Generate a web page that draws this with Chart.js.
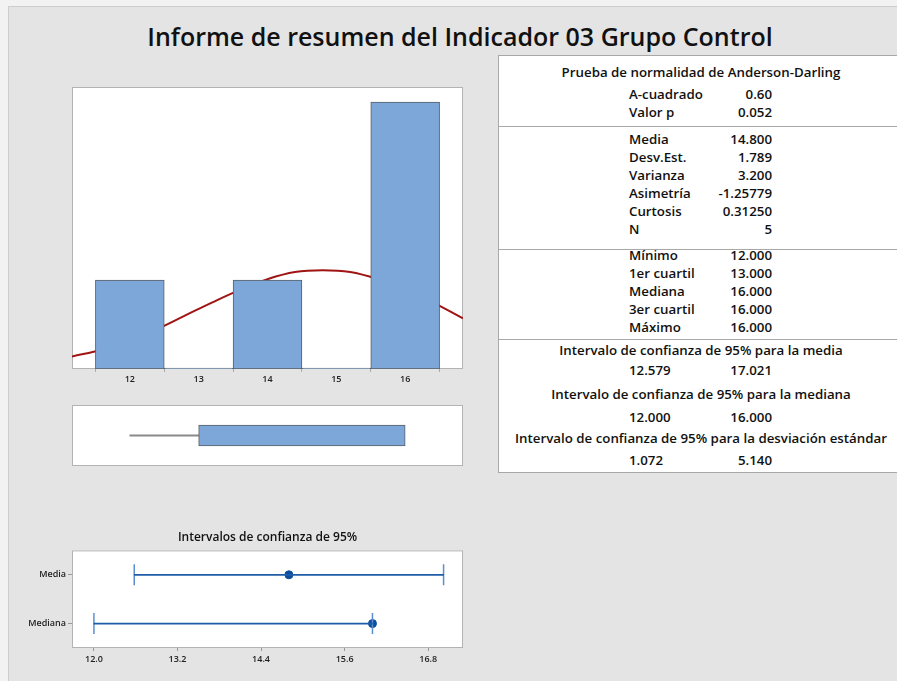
<!DOCTYPE html>
<html>
<head>
<meta charset="utf-8">
<script src="https://cdn.jsdelivr.net/npm/chart.js@4.4.1/dist/chart.umd.min.js"></script>
<style>
  body { margin: 0; width: 897px; height: 681px; overflow: hidden; background: #f2f2f2; font-family: 'Open Sans', sans-serif; position: relative; }
  #frame { position: absolute; left: 8px; top: 6px; right: 0; bottom: 0; background: #e4e4e4; border-left: 1px solid #cdcdcd; border-top: 1px solid #cdcdcd; }
  #title { position: absolute; left: 0; width: 920px; top: 19px; line-height: 34px; text-align: center; font-size: 25px; font-weight: 600; color: #111; }
  .cv { position: absolute; }
  #tbl { position: absolute; left: 498px; top: 55px; width: 420px; height: 416px; background: #fff; border: 1px solid #a8a8a8; color: #111; font-size: 13.3px; font-weight: 600; }
  #tbl div { position: absolute; line-height: 18px; white-space: nowrap; }
  .hd { left: 2px; width: 400px; text-align: center; }
  .lb { left: 130px; }
  .vl { left: 130px; width: 143px; text-align: right; }
  .sep { left: 0; width: 420px; height: 0; border-top: 1px solid #a8a8a8; }
</style>
</head>
<body>
<div id="frame"></div>
<div id="title">Informe de resumen del Indicador 03 Grupo Control</div>
<canvas id="hist" class="cv" style="left:60px;top:80px" width="415" height="315"></canvas>
<canvas id="box" class="cv" style="left:60px;top:398px" width="415" height="76"></canvas>
<canvas id="ci" class="cv" style="left:0px;top:525px" width="480" height="156"></canvas>
<div id="tbl"></div>
<script>
// histogram
var binCenters = [12, 13, 14, 15, 16];
var binCounts = [1, 0, 1, 0, 3];
var histTicks = [12, 13, 14, 15, 16];
// fitted normal curve
var curveX = [11.16, 11.6, 12.0, 12.4, 12.8, 13.2, 13.6, 14.0, 14.4, 14.8, 15.2, 15.6, 16.0, 16.4, 16.84];
var curveY = [0.14, 0.22, 0.33, 0.45, 0.60, 0.75, 0.89, 1.01, 1.09, 1.11, 1.09, 1.01, 0.89, 0.75, 0.57];
// boxplot: min, q1, median, q3, max
var boxStats = [12, 13, 16, 16, 16];
// confidence intervals
var ciRows = ['Media', 'Mediana'];
var ciCenter = [14.8, 16.0];
var ciLower = [12.579, 12.0];
var ciUpper = [17.021, 16.0];
var ciTicks = [12.0, 13.2, 14.4, 15.6, 16.8];
// summary table
var adLabels = ['A-cuadrado', 'Valor p'];
var adValues = ['0.60', '0.052'];
var momLabels = ['Media', 'Desv.Est.', 'Varianza', 'Asimetría', 'Curtosis', 'N'];
var momValues = ['14.800', '1.789', '3.200', '-1.25779', '0.31250', '5'];
var qLabels = ['Mínimo', '1er cuartil', 'Mediana', '3er cuartil', 'Máximo'];
var qValues = ['12.000', '13.000', '16.000', '16.000', '16.000'];
var ciHeaders = ['Intervalo de confianza de 95% para la media', 'Intervalo de confianza de 95% para la mediana', 'Intervalo de confianza de 95% para la desviación estándar'];
var ciLowTxt = ['12.579', '12.000', '1.072'];
var ciHighTxt = ['17.021', '16.000', '5.140'];

Chart.defaults.font.family = "'Open Sans', sans-serif";
Chart.defaults.animation = false;
Chart.defaults.plugins.legend.display = false;
Chart.defaults.plugins.tooltip.enabled = false;

var blue = '#7da7d9';
var edge = '#5a5e66';

// white plot panel with a grey frame
var panel = {
  id: 'panel',
  beforeDraw: function(chart) {
    var a = chart.chartArea, c = chart.ctx;
    c.save();
    c.fillStyle = '#fff';
    c.fillRect(a.left, a.top, a.right - a.left, a.bottom - a.top);
    c.strokeStyle = '#b3b3b3';
    c.lineWidth = 1;
    c.strokeRect(a.left + 0.5, a.top + 0.5, a.right - a.left - 1, a.bottom - a.top - 1);
    c.restore();
  }
};

var tickFont = { size: 9, weight: '600' };

new Chart(document.getElementById('hist'), {
  type: 'bar',
  data: {
    datasets: [{
      data: binCenters.map(function(x, i) { return { x: x, y: binCounts[i] }; }),
      backgroundColor: blue,
      borderColor: edge,
      borderWidth: 1,
      borderSkipped: false,
      minBarLength: 1,
      barPercentage: 1,
      categoryPercentage: 1
    }, {
      type: 'line',
      data: curveX.map(function(x, i) { return { x: x, y: curveY[i] }; }),
      borderColor: '#a01414',
      borderWidth: 2,
      pointRadius: 0,
      tension: 0.4
    }]
  },
  options: {
    responsive: false,
    layout: { padding: { left: 12, right: 12, top: 7, bottom: 0 } },
    scales: {
      x: {
        type: 'linear', min: 11.16, max: 16.84, offset: false,
        afterBuildTicks: function(s) { s.ticks = histTicks.map(function(v) { return { value: v }; }); },
        afterFit: function(s) { s.height = 26; },
        ticks: { font: tickFont, color: '#222', padding: 2 },
        grid: { drawOnChartArea: false, tickLength: 3, color: '#aaa' },
        border: { display: false }
      },
      y: { min: 0, max: 3.17, display: false }
    }
  },
  plugins: [panel]
});

new Chart(document.getElementById('box'), {
  type: 'bar',
  data: {
    datasets: [{
      data: [{ x: [boxStats[1], boxStats[3]], y: 0 }],
      backgroundColor: blue,
      borderColor: edge,
      borderWidth: 1,
      borderSkipped: false,
      barThickness: 21,
      grouped: false
    }, {
      data: [{ x: [boxStats[0], boxStats[1]], y: 0 }],
      backgroundColor: '#8a8a8a',
      borderWidth: 0,
      barThickness: 1.2,
      grouped: false
    }]
  },
  options: {
    responsive: false,
    indexAxis: 'y',
    layout: { padding: { left: 12, right: 12, top: 7, bottom: 8 } },
    scales: {
      x: { type: 'linear', min: 11.16, max: 16.84, display: false },
      y: { type: 'linear', min: -1, max: 1, display: false }
    }
  },
  plugins: [panel]
});

new Chart(document.getElementById('ci'), {
  type: 'bar',
  data: {
    labels: ciRows,
    datasets: [{
      data: ciLower.map(function(l, i) { return [l, ciUpper[i]]; }),
      backgroundColor: '#1f5ca8',
      barThickness: 1
    }, {
      type: 'line',
      showLine: false,
      data: ciRows.flatMap(function(r, i) { return [{ x: ciLower[i], y: r }, { x: ciUpper[i], y: r }]; }),
      pointStyle: 'line',
      rotation: 90,
      pointRadius: 10.5,
      borderColor: '#5b8ed0',
      borderWidth: 1.5
    }, {
      type: 'line',
      showLine: false,
      data: ciRows.map(function(r, i) { return { x: ciCenter[i], y: r }; }),
      pointStyle: 'circle',
      pointRadius: 4,
      backgroundColor: '#0b4f9c',
      borderColor: '#0b4f9c'
    }]
  },
  options: {
    responsive: false,
    indexAxis: 'y',
    layout: { padding: { left: 0, right: 17, top: 0, bottom: 0 } },
    plugins: {
      title: {
        display: true, fullSize: false,
        text: 'Intervalos de confianza de 95%',
        color: '#111',
        font: { size: 12, weight: '600' },
        padding: { top: 5, bottom: 6 }
      }
    },
    scales: {
      x: {
        type: 'linear', min: 11.685, max: 17.3,
        afterBuildTicks: function(s) { s.ticks = ciTicks.map(function(v) { return { value: v }; }); },
        afterFit: function(s) { s.height = 33; },
        ticks: { font: tickFont, color: '#222', padding: 3, callback: function(v) { return v.toFixed(1); } },
        grid: { drawOnChartArea: false, tickLength: 3, color: '#999' },
        border: { display: false }
      },
      y: {
        type: 'category', labels: ciRows, offset: true,
        afterFit: function(s) { s.width = 72; },
        ticks: { font: { size: 9, weight: '600' }, color: '#222', padding: 2 },
        grid: { drawOnChartArea: false, tickLength: 4, color: '#999', offset: false },
        border: { display: false }
      }
    }
  },
  plugins: [panel]
});

// summary table
var tbl = document.getElementById('tbl');
function put(cls, text, cy) {
  var d = document.createElement('div');
  d.className = cls;
  d.textContent = text;
  d.style.top = (cy - 55 - 10) + 'px';
  tbl.appendChild(d);
}
function sep(y) {
  var d = document.createElement('div');
  d.className = 'sep';
  d.style.top = (y - 55) + 'px';
  tbl.appendChild(d);
}
put('hd', 'Prueba de normalidad de Anderson-Darling', 72);
adLabels.forEach(function(t, i) { put('lb', t, 94 + i * 18); put('vl', adValues[i], 94 + i * 18); });
sep(125);
momLabels.forEach(function(t, i) { put('lb', t, 139 + i * 18); put('vl', momValues[i], 139 + i * 18); });
sep(248);
qLabels.forEach(function(t, i) { put('lb', t, 255 + i * 18); put('vl', qValues[i], 255 + i * 18); });
sep(338);
var ciY = [[350, 370], [394, 416.5], [438, 460]];
ciHeaders.forEach(function(t, i) {
  put('hd', t, ciY[i][0]);
  put('lb', ciLowTxt[i], ciY[i][1]);
  put('vl', ciHighTxt[i], ciY[i][1]);
});
</script>
</body>
</html>
